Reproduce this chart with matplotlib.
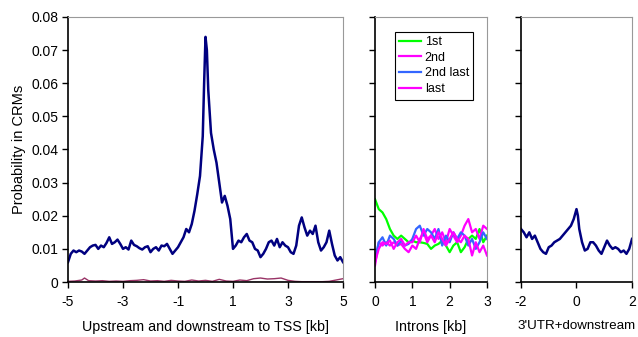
import matplotlib
matplotlib.use("Agg")
import matplotlib.pyplot as plt

plt.rcParams['font.family'] = ['Liberation Sans', 'DejaVu Sans']
plt.rcParams['axes.unicode_minus'] = False

# panel 1: around TSS (kb)
tss_x = [-5.0, -4.9, -4.8, -4.7, -4.6, -4.5, -4.4, -4.3, -4.2, -4.1,
         -4.0, -3.9, -3.8, -3.7, -3.6, -3.5, -3.4, -3.3, -3.2, -3.1,
         -3.0, -2.9, -2.8, -2.7, -2.6, -2.5, -2.4, -2.3, -2.2, -2.1,
         -2.0, -1.9, -1.8, -1.7, -1.6, -1.5, -1.4, -1.3, -1.2, -1.1,
         -1.0, -0.9, -0.8, -0.7, -0.6, -0.5, -0.4, -0.3, -0.2, -0.1,
         -0.05, 0.0, 0.05, 0.1, 0.2, 0.3, 0.4, 0.5, 0.6, 0.7, 0.8, 0.9,
         1.0, 1.1, 1.2, 1.3, 1.4, 1.5, 1.6, 1.7, 1.8, 1.9,
         2.0, 2.1, 2.2, 2.3, 2.4, 2.5, 2.6, 2.7, 2.8, 2.9,
         3.0, 3.1, 3.2, 3.3, 3.4, 3.5, 3.6, 3.7, 3.8, 3.9,
         4.0, 4.1, 4.2, 4.3, 4.4, 4.5, 4.6, 4.7, 4.8, 4.9, 5.0]
tss_all = [0.0060, 0.0085, 0.0095, 0.0090, 0.0095, 0.0092, 0.0085, 0.0095, 0.0105, 0.0110,
           0.0112, 0.0100, 0.0110, 0.0105, 0.0118, 0.0135, 0.0115, 0.0120, 0.0128, 0.0115,
           0.0100, 0.0105, 0.0098, 0.0125, 0.0112, 0.0108, 0.0102, 0.0098, 0.0105, 0.0108,
           0.0090, 0.0100, 0.0105, 0.0095, 0.0110, 0.0108, 0.0115, 0.0100, 0.0085, 0.0095,
           0.0105, 0.0120, 0.0135, 0.0160, 0.0150, 0.0175, 0.0215, 0.0265, 0.0320, 0.0440,
           0.0600, 0.0740, 0.0700, 0.0580, 0.0450, 0.0400, 0.0360, 0.0300, 0.0240, 0.0260, 0.0230, 0.0190,
           0.0100, 0.0110, 0.0125, 0.0120, 0.0135, 0.0145, 0.0125, 0.0120, 0.0100, 0.0095,
           0.0075, 0.0085, 0.0100, 0.0120, 0.0125, 0.0110, 0.0130, 0.0105, 0.0120, 0.0110,
           0.0105, 0.0090, 0.0085, 0.0110, 0.0170, 0.0195, 0.0165, 0.0140, 0.0155, 0.0145,
           0.0170, 0.0120, 0.0095, 0.0105, 0.0120, 0.0155, 0.0115, 0.0080, 0.0065, 0.0075, 0.0060]

low_x = [-5.0, -4.75, -4.5, -4.4, -4.25, -4.0, -3.75, -3.5, -3.25, -3.0, -2.75, -2.5,
         -2.25, -2.0, -1.75, -1.5, -1.25, -1.0, -0.75, -0.5, -0.25, 0.0, 0.25, 0.5,
         0.75, 1.0, 1.25, 1.5, 1.75, 2.0, 2.25, 2.5, 2.75, 3.0, 3.25, 3.5, 3.75,
         4.0, 4.25, 4.5, 4.75, 5.0]
tss_low = [0.0002, 0.0003, 0.0006, 0.0012, 0.0004, 0.0003, 0.0004, 0.0002, 0.0003, 0.0002,
           0.0004, 0.0005, 0.0007, 0.0003, 0.0004, 0.0002, 0.0005, 0.0003, 0.0002, 0.0006,
           0.0003, 0.0005, 0.0002, 0.0008, 0.0003, 0.0002, 0.0006, 0.0004, 0.0010, 0.0012,
           0.0009, 0.0010, 0.0012, 0.0005, 0.0002, 0.0001, 0.0001, 0.0001, 0.0001, 0.0002,
           0.0006, 0.0010]

# panel 2: introns (kb)
intron_x = [0.0, 0.1, 0.2, 0.3, 0.4, 0.5, 0.6, 0.7, 0.8, 0.9, 1.0, 1.1, 1.2, 1.3, 1.4, 1.5,
            1.6, 1.7, 1.8, 1.9, 2.0, 2.1, 2.2, 2.3, 2.4, 2.5, 2.6, 2.7, 2.8, 2.9, 3.0]
intron_1st = [0.025, 0.022, 0.021, 0.019, 0.016, 0.014, 0.013, 0.014, 0.013, 0.012, 0.0125,
              0.012, 0.012, 0.0118, 0.0115, 0.010, 0.011, 0.0115, 0.0125, 0.011, 0.009,
              0.011, 0.012, 0.009, 0.0105, 0.013, 0.014, 0.013, 0.016, 0.012, 0.014]
intron_2nd = [0.005, 0.012, 0.011, 0.012, 0.011, 0.012, 0.011, 0.0115, 0.010, 0.009, 0.011,
              0.010, 0.013, 0.015, 0.012, 0.014, 0.016, 0.013, 0.015, 0.012, 0.016,
              0.014, 0.012, 0.014, 0.017, 0.019, 0.015, 0.016, 0.013, 0.017, 0.016]
intron_2nd_last = [0.007, 0.012, 0.0135, 0.011, 0.014, 0.013, 0.011, 0.0125, 0.011, 0.0115, 0.013,
                   0.016, 0.017, 0.014, 0.016, 0.015, 0.013, 0.016, 0.011, 0.014, 0.012,
                   0.015, 0.013, 0.015, 0.014, 0.011, 0.013, 0.010, 0.012, 0.015, 0.013]
intron_last = [0.006, 0.010, 0.012, 0.0115, 0.0125, 0.010, 0.012, 0.013, 0.011, 0.012, 0.012,
               0.014, 0.012, 0.016, 0.013, 0.014, 0.012, 0.015, 0.013, 0.011, 0.013,
               0.015, 0.013, 0.012, 0.014, 0.013, 0.008, 0.012, 0.009, 0.011, 0.008]

# panel 3: 3'UTR + downstream (kb)
utr_x = [-2.0, -1.9, -1.8, -1.7, -1.6, -1.5, -1.4, -1.3, -1.2, -1.1, -1.0, -0.9, -0.8, -0.7,
         -0.6, -0.5, -0.4, -0.3, -0.2, -0.1, 0.0, 0.05, 0.1, 0.2, 0.3, 0.4, 0.5, 0.6, 0.7,
         0.8, 0.9, 1.0, 1.1, 1.2, 1.3, 1.4, 1.5, 1.6, 1.7, 1.8, 1.9, 2.0]
utr_y = [0.016, 0.015, 0.0135, 0.015, 0.013, 0.014, 0.012, 0.010, 0.009, 0.0085, 0.0105,
         0.011, 0.012, 0.0125, 0.013, 0.014, 0.015, 0.016, 0.017, 0.019, 0.022, 0.020,
         0.016, 0.012, 0.0095, 0.010, 0.012, 0.012, 0.011, 0.0095, 0.0085, 0.0105, 0.0125,
         0.011, 0.010, 0.0105, 0.010, 0.009, 0.0095, 0.0085, 0.010, 0.013]

navy = '#000080'
fig = plt.figure(figsize=(6.38, 3.37), dpi=100)
ax1 = fig.add_axes([0.1066, 0.1632, 0.431, 0.7864])
ax2 = fig.add_axes([0.5878, 0.1632, 0.1755, 0.7864])
ax3 = fig.add_axes([0.8166, 0.1632, 0.174, 0.7864])

ax1.plot(tss_x, tss_all, color=navy, lw=1.8)
ax1.plot(low_x, tss_low, color='#993366', lw=1.0)
ax1.axhline(0, color='#993366', lw=1.0)

ax2.plot(intron_x, intron_1st, color='#00ff00', lw=1.6, label='1st')
ax2.plot(intron_x, intron_2nd, color='#ff00ff', lw=1.6, label='2nd')
ax2.plot(intron_x, intron_2nd_last, color='#3366ff', lw=1.6, label='2nd last')
ax2.plot(intron_x, intron_last, color='#ff00ff', lw=1.6, label='last')
leg = ax2.legend(loc='upper center', bbox_to_anchor=(0.527, 0.945), fontsize=9,
                 fancybox=False, framealpha=1, handlelength=1.75, handletextpad=0.3,
                 labelspacing=0.3, borderpad=0.35, borderaxespad=0)
leg.get_frame().set_edgecolor('black')
leg.get_frame().set_linewidth(0.8)

ax3.plot(utr_x, utr_y, color=navy, lw=1.8)

ax1.set_xlim(-5, 5)
ax1.set_xticks([-5, -3, -1, 1, 3, 5])
ax2.set_xlim(0, 3)
ax2.set_xticks([0, 1, 2, 3])
ax3.set_xlim(-2, 2)
ax3.set_xticks([-2, 0, 2])

for ax in (ax1, ax2, ax3):
    ax.set_ylim(0, 0.08)
    ax.set_yticks([0, 0.01, 0.02, 0.03, 0.04, 0.05, 0.06, 0.07, 0.08])
    ax.spines['left'].set_color('black')
    ax.spines['bottom'].set_color('black')
    ax.spines['left'].set_linewidth(1.2)
    ax.spines['bottom'].set_linewidth(1.2)
    ax.spines['top'].set_color('#999999')
    ax.spines['right'].set_color('#999999')
    ax.tick_params(direction='out', length=4, width=1, labelsize=10, pad=3)
    ax.tick_params(axis='x', pad=5)

ax1.set_yticklabels(['0', '0.01', '0.02', '0.03', '0.04', '0.05', '0.06', '0.07', '0.08'])
ax2.set_yticklabels([])
ax3.set_yticklabels([])

ax1.set_ylabel('Probability in CRMs', fontsize=10.5, labelpad=4)
ax1.set_xlabel('Upstream and downstream to TSS [kb]', fontsize=10.3, labelpad=8)
ax2.set_xlabel('Introns [kb]', fontsize=10.3, labelpad=8)
ax3.set_xlabel("3'UTR+downstream", fontsize=9.6, labelpad=8)

fig.savefig('out.png', dpi=100)
